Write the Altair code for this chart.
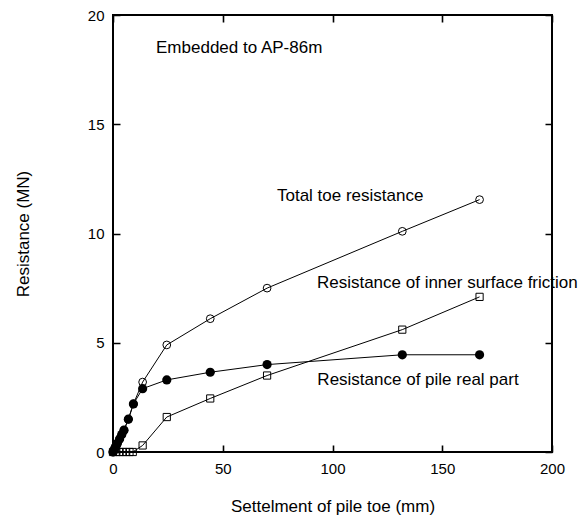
import altair as alt
import pandas as pd

# Settlement of pile toe (mm) and resistances (MN)
settle_total = [0, 1, 2, 3, 4, 5, 7, 9.3, 13.5, 24.5, 44.3, 70.2, 131.8, 167.0]
res_total = [0, 0.2, 0.4, 0.6, 0.8, 1.0, 1.5, 2.2, 3.2, 4.9, 6.1, 7.5, 10.1, 11.55]

settle_real = [0, 0.5, 1, 1.5, 2, 3, 4, 5, 7, 9.3, 13.5, 24.5, 44.3, 70.2, 131.8, 167.0]
res_real = [0, 0.1, 0.2, 0.3, 0.4, 0.6, 0.8, 1.0, 1.5, 2.2, 2.9, 3.3, 3.65, 4.0, 4.45, 4.45]

settle_inner = [0, 1.5, 3, 4.5, 6, 7.5, 9, 13.5, 24.5, 44.3, 70.2, 131.8, 167.0]
res_inner = [0, 0, 0, 0, 0, 0, 0, 0.3, 1.6, 2.45, 3.5, 5.6, 7.1]

annotations = ["Embedded to AP-86m", "Total toe resistance",
               "Resistance of inner surface friction", "Resistance of pile real part"]
annot_x = [19.6, 74.7, 92.9, 93.1]
annot_y = [18.5, 11.7, 7.73, 3.3]

W, H = 439, 437
TICK = 7
FONT = "Liberation Sans"

total = pd.DataFrame({"s": settle_total, "r": res_total})
real = pd.DataFrame({"s": settle_real, "r": res_real})
inner = pd.DataFrame({"s": settle_inner, "r": res_inner})
notes = pd.DataFrame({"t": annotations, "x": annot_x, "y": annot_y})

# Inward tick marks on all four sides are drawn as short dashes at both
# ends of each grid line.
x_enc = alt.X(
    "s:Q",
    scale=alt.Scale(domain=[0, 200], nice=False),
    axis=alt.Axis(
        values=[0, 50, 100, 150, 200],
        title="Settelment of pile toe (mm)",
        grid=True,
        gridDash=[TICK, H - 2 * TICK, TICK, 60],
        gridColor="black",
        gridWidth=1.6,
        gridOpacity=1,
        ticks=False,
        domain=False,
        labelFlush=False,
        labelPadding=9,
        titlePadding=22,
    ),
)
y_enc = alt.Y(
    "r:Q",
    scale=alt.Scale(domain=[0, 20], nice=False),
    axis=alt.Axis(
        values=[0, 5, 10, 15, 20],
        title="Resistance (MN)",
        grid=True,
        gridDash=[TICK, W - 2 * TICK, TICK, 60],
        gridColor="black",
        gridWidth=1.6,
        gridOpacity=1,
        ticks=False,
        domain=False,
        labelFlush=False,
        labelPadding=9,
        titlePadding=55,
    ),
)


def series(df, shape, filled, size):
    line = alt.Chart(df).mark_line(color="black", strokeWidth=1).encode(x=x_enc, y=y_enc)
    if filled:
        pts = alt.Chart(df).mark_point(
            shape=shape, filled=True, size=size, color="black", opacity=1
        ).encode(x=x_enc, y=y_enc)
    else:
        pts = alt.Chart(df).mark_point(
            shape=shape, filled=False, size=size, color="black", strokeWidth=1, opacity=1
        ).encode(x=x_enc, y=y_enc)
    return line + pts


text = alt.Chart(notes).mark_text(
    align="left", baseline="middle", font=FONT, fontSize=17, color="black"
).encode(
    x=alt.X("x:Q", scale=alt.Scale(domain=[0, 200], nice=False)),
    y=alt.Y("y:Q", scale=alt.Scale(domain=[0, 20], nice=False)),
    text="t:N",
)

chart = alt.layer(
    series(total, "circle", False, 60),
    series(inner, "square", False, 52),
    series(real, "circle", True, 85),
    text,
).properties(
    width=W,
    height=H,
    autosize=alt.AutoSizeParams(type="none"),
    padding={"left": 113, "top": 15, "right": 36, "bottom": 69},
    background="white",
).configure_view(
    stroke="black", strokeWidth=2
).configure_axis(
    labelFont=FONT,
    labelFontSize=15,
    labelColor="black",
    titleFont=FONT,
    titleFontSize=17,
    titleFontWeight="normal",
    titleColor="black",
)

chart.save("out.html", embed_options={"renderer": "svg", "actions": False})
